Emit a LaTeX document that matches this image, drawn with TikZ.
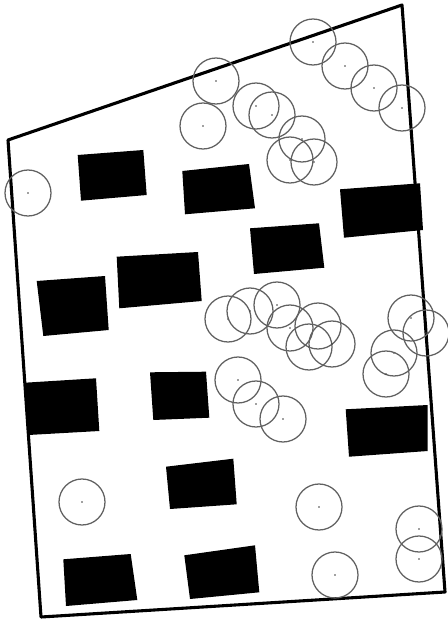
\documentclass[tikz,border=0pt]{standalone}
\begin{document}
\begin{tikzpicture}[x=0.025cm, y=-0.025cm,
    rand/.style={draw=black, line width=2.2pt, line join=round},
    blok/.style={fill=black},
    krug/.style={draw=black!62, line width=0.9pt},
    tacka/.style={fill=black!75}]

    \useasboundingbox (0,0) rectangle (447,622);

    % okvir
    \coordinate (tl) at (8,140);
    \coordinate (tr) at (402,5);
    \coordinate (br) at (445,592);
    \coordinate (bl) at (41,617);
    \draw [rand] (tl) -- (tr) -- (br) -- (bl) -- cycle;

    % blokovi
    \fill [blok] (77.7,155) -- (143.3,150) -- (146.7,195) -- (81,200.7) -- cycle;
    \fill [blok] (182.3,171) -- (249,164) -- (255,208.3) -- (185,214.3) -- cycle;
    \fill [blok] (340,189.3) -- (420,183.3) -- (423,230) -- (344,237.7) -- cycle;
    \fill [blok] (250,228.3) -- (319,223.3) -- (324.3,267.7) -- (254,274) -- cycle;
    \fill [blok] (116.7,256.7) -- (198,252) -- (201.7,301) -- (119.3,308.3) -- cycle;
    \fill [blok] (36.7,281) -- (105,276) -- (108.7,330) -- (43.3,336) -- cycle;
    \fill [blok] (25,382.7) -- (96,378.3) -- (99.3,431) -- (28.3,435) -- cycle;
    \fill [blok] (150,372.3) -- (206,371.7) -- (209.3,417.7) -- (153.3,420) -- cycle;
    \fill [blok] (345.7,409.3) -- (427.7,405) -- (427.7,451) -- (349,456.7) -- cycle;
    \fill [blok] (166,466.7) -- (233.3,458.7) -- (236.7,504.3) -- (170,509) -- cycle;
    \fill [blok] (63.3,559.3) -- (130.7,554) -- (137.3,600) -- (66,606) -- cycle;
    \fill [blok] (184.3,555.3) -- (255,545.3) -- (259.3,592.3) -- (190,599) -- cycle;

    % krugovi
    \foreach \x/\y in {313/42, 345/66, 374/88, 402/108, 216/81, 203/126,
                       256/106, 272/115, 302/139, 290/160, 314/162, 28/193,
                       228/319, 250/311, 277/305, 290/328, 318/326, 309/347, 332/344,
                       411/318, 426/333, 394/353, 386/374,
                       238/380, 256/404, 283/419,
                       82/502, 319/507, 419/529, 419/559, 335/575} {
        \draw [krug] (\x,\y) circle [radius=0.575cm];
        \fill [tacka] (\x,\y) circle [radius=0.022cm];
    }
\end{tikzpicture}
\end{document}
